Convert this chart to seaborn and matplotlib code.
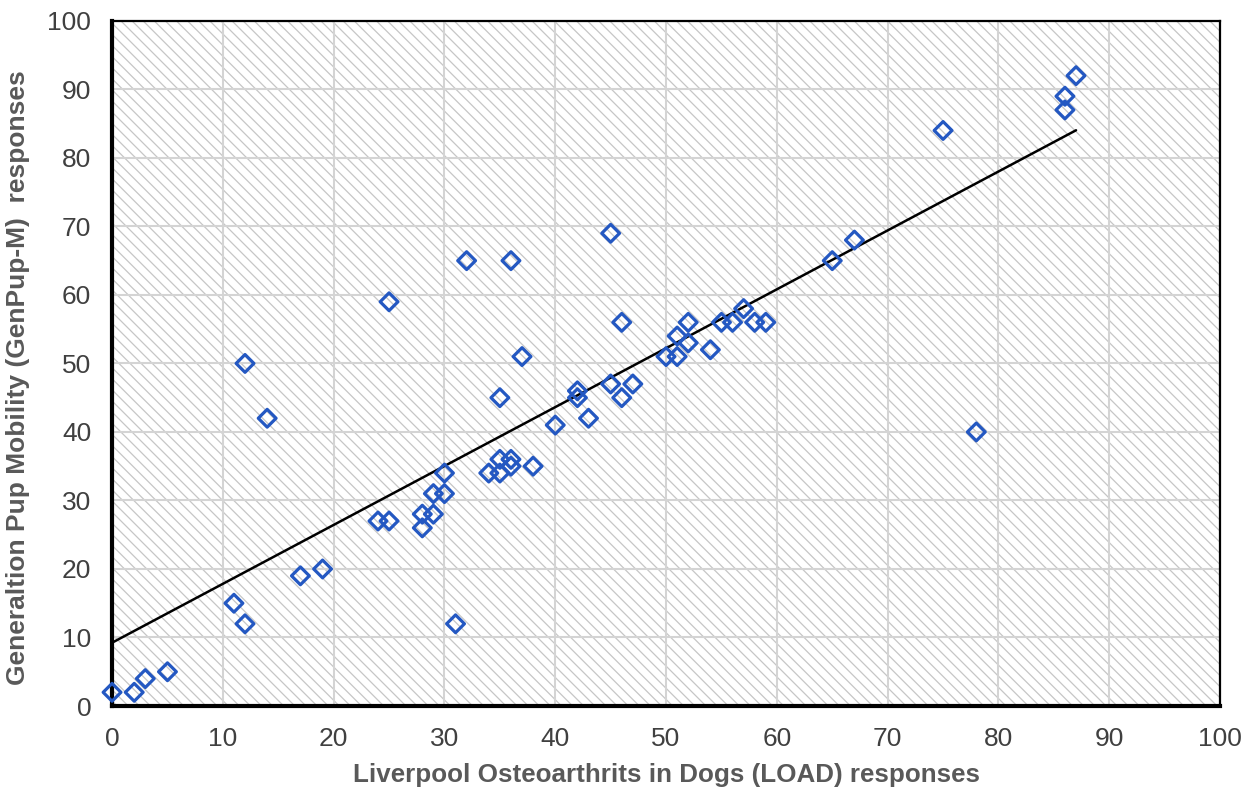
import numpy as np
import pandas as pd
import matplotlib
matplotlib.use("Agg")
import matplotlib.pyplot as plt
from matplotlib.patches import Rectangle
import seaborn as sns

# LOAD vs GenPup-M scores
load_scores = [0, 2, 3, 5, 11, 12, 12, 14, 17, 19, 24, 25, 25, 28, 28, 29, 29, 30, 30,
               31, 32, 34, 35, 35, 35, 36, 36, 36, 37, 38, 40, 42, 42, 43, 45, 45, 46,
               46, 47, 50, 51, 51, 52, 52, 54, 55, 56, 57, 58, 59, 65, 67, 75, 78, 86,
               86, 87]
genpup_scores = [2, 2, 4, 5, 15, 12, 50, 42, 19, 20, 27, 27, 59, 26, 28, 28, 31, 31, 34,
                 12, 65, 34, 34, 36, 45, 35, 36, 65, 51, 35, 41, 46, 45, 42, 69, 47, 56,
                 45, 47, 51, 54, 51, 56, 53, 52, 56, 56, 58, 56, 56, 65, 68, 84, 40, 89,
                 87, 92]
ticks = list(range(0, 101, 10))

df = pd.DataFrame({"load": load_scores, "genpup": genpup_scores})

sns.set_theme(style="white")
plt.rcParams["font.family"] = ["Liberation Sans", "DejaVu Sans"]
plt.rcParams["hatch.linewidth"] = 0.9

fig = plt.figure(figsize=(12.52, 7.93), dpi=100)
ax = fig.add_axes([0.0895, 0.1097, 0.885, 0.864])

# hatched plot area
ax.set_facecolor("white")
ax.add_patch(Rectangle((0, 0), 1, 1, transform=ax.transAxes, facecolor="white",
                       edgecolor="#c6c6c6", hatch="\\\\\\", linewidth=0, zorder=0.1))
ax.set_axisbelow(True)
ax.grid(True, color="#d4d4d4", linewidth=1.5)

sns.regplot(data=df, x="load", y="genpup", scatter=False, ci=None, truncate=True,
            color="black", line_kws={"linewidth": 1.8, "zorder": 3}, ax=ax)
sns.scatterplot(data=df, x="load", y="genpup", marker="D", s=82, facecolor="none",
                edgecolor="#2458c2", linewidth=2.3, zorder=4, ax=ax, clip_on=False)

ax.set_xlim(0, 100)
ax.set_ylim(0, 100)
ax.set_xticks(ticks)
ax.set_yticks(ticks)
ax.tick_params(axis="both", length=0, labelsize=19, labelcolor="#404040")
ax.tick_params(axis="x", pad=15)
ax.tick_params(axis="y", pad=15)

for side in ["left", "bottom"]:
    ax.spines[side].set_linewidth(3)
    ax.spines[side].set_color("black")
for side in ["top", "right"]:
    ax.spines[side].set_linewidth(1.6)
    ax.spines[side].set_color("black")
    ax.spines[side].set_visible(True)

ax.set_xlabel("Liverpool Osteoarthrits in Dogs (LOAD) responses", fontsize=18.7,
              fontweight="bold", color="#595959", labelpad=9)
ax.set_ylabel("Generaltion Pup Mobility (GenPup-M)  responses", fontsize=19,
              fontweight="bold", color="#595959")
ax.yaxis.set_label_coords(-0.074, 0.48)

fig.savefig("out.png", dpi=100)
